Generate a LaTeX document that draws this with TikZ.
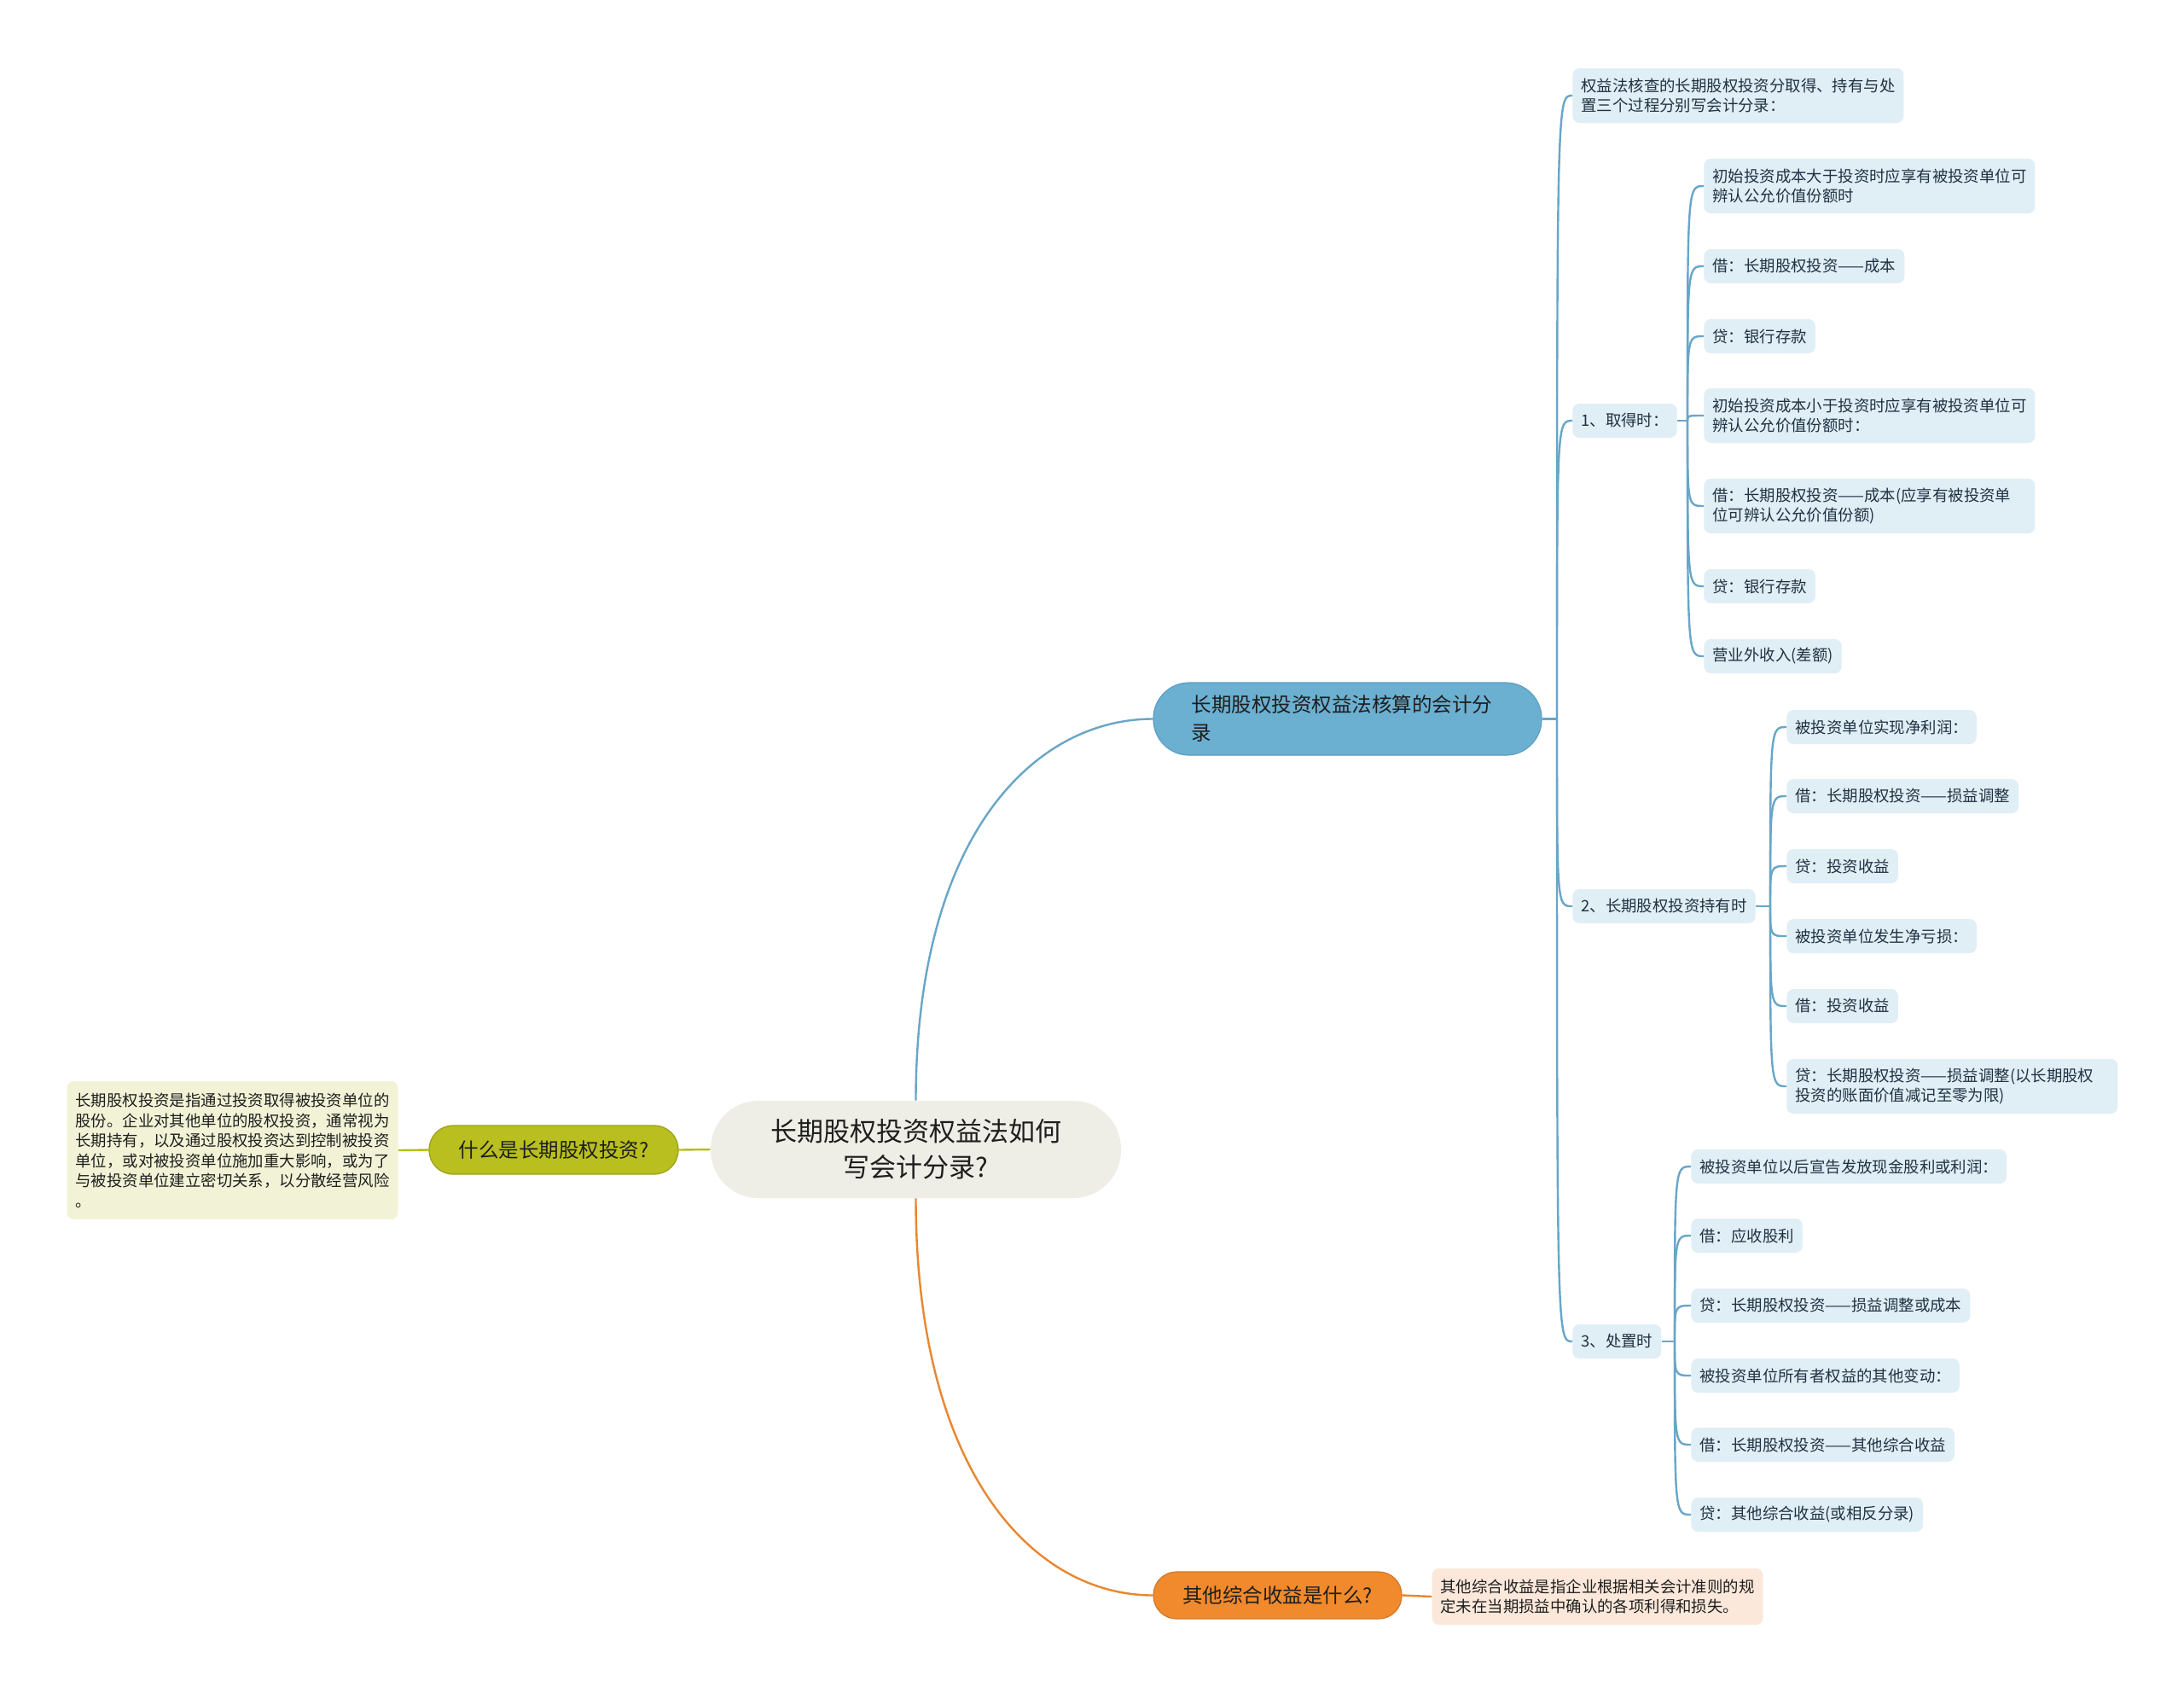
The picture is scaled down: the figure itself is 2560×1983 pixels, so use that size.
\documentclass[tikz,border=0pt]{standalone}
\usepackage{fontspec}
\setmainfont{Noto Sans CJK SC}
\usepackage{tikz}
\usetikzlibrary{positioning, calc}
\usepackage{xcolor}
\definecolor{rootfill}{RGB}{239,238,230}
\definecolor{bluefill}{RGB}{107,175,209}
\definecolor{blueedge}{RGB}{92,158,194}
\definecolor{bluewire}{RGB}{104,166,200}
\definecolor{leaffill}{RGB}{224,238,246}
\definecolor{leafink}{RGB}{32,50,66}
\definecolor{olivefill}{RGB}{184,191,30}
\definecolor{olivewire}{RGB}{181,190,30}
\definecolor{olivenote}{RGB}{242,243,214}
\definecolor{orangefill}{RGB}{241,138,44}
\definecolor{orangewire}{RGB}{232,135,48}
\definecolor{orangenote}{RGB}{252,232,218}
\definecolor{darkink}{RGB}{30,30,30}

\begin{document}
\begin{tikzpicture}[x=0.5pt, y=-0.5pt,
  leaf/.style={fill=leaffill, text=leafink, rounded corners=4pt, inner xsep=5pt, inner ysep=0pt,
               minimum height=20pt, anchor=west, font=\fontsize{9.2}{11.5}\selectfont},
  wideleaf/.style={leaf, text width=184pt, align=left, minimum height=32pt},
  note/.style={rounded corners=4pt, inner xsep=5pt, inner ysep=0pt, text width=184pt, align=left,
               text=darkink, font=\fontsize{9.2}{11.75}\selectfont},
  topic/.style={inner sep=0pt, font=\fontsize{11.75}{16.5}\selectfont, text=darkink},
  bluelink/.style={draw=bluewire, line width=1.2pt},
  olivelink/.style={draw=olivewire, line width=1.2pt},
  orangelink/.style={draw=orangewire, line width=1.2pt}]

  \fill[white] (0,0) rectangle (2560,1983);
  \useasboundingbox (0,0) rectangle (2560,1983);

  \node[fill=rootfill, rounded corners=28pt, minimum width=240.5pt, minimum height=57pt, inner sep=0pt,
        align=center, text=darkink, font=\fontsize{15.5}{21}\selectfont] (root) at (1073.5,1347)
    {长期股权投资权益法如何\\写会计分录?};

  \node[topic, fill=bluefill, draw=blueedge, line width=0.6pt, rounded corners=21pt,
        minimum width=227.5pt, minimum height=42.5pt, text width=183pt, align=left] (q1) at (1579.5,842.5)
    {长期股权投资权益法核算的会计分\\录};
  \node[topic, fill=olivefill, draw=olivewire!85!black, line width=0.6pt, rounded corners=14pt,
        minimum width=146pt, minimum height=28.5pt] (q2) at (649,1347.5) {什么是长期股权投资?};
  \node[topic, fill=orangefill, draw=orangewire!90!black, line width=0.6pt, rounded corners=13.5pt,
        minimum width=145.5pt, minimum height=27.5pt] (q3) at (1497.5,1869.5) {其他综合收益是什么?};

  \node[note, fill=olivenote, minimum height=81pt] (d2) at (272.5,1348)
    {长期股权投资是指通过投资取得被投资单位的\\股份。企业对其他单位的股权投资，通常视为\\长期持有，以及通过股权投资达到控制被投资\\单位，或对被投资单位施加重大影响，或为了\\与被投资单位建立密切关系，以分散经营风险\\。};
  \node[note, fill=orangenote, minimum height=33pt] (d3) at (1872.5,1871)
    {其他综合收益是指企业根据相关会计准则的规\\定未在当期损益中确认的各项利得和损失。};

  \node[wideleaf] (s0) at (1843,112) {权益法核查的长期股权投资分取得、持有与处\\置三个过程分别写会计分录：};
  \node[leaf] (s1) at (1843,493) {1、取得时：};
  \node[leaf] (s2) at (1843,1062) {2、长期股权投资持有时};
  \node[leaf] (s3) at (1843,1572) {3、处置时};

  \node[wideleaf] (a1) at (1997,218) {初始投资成本大于投资时应享有被投资单位可\\辨认公允价值份额时};
  \node[leaf] (a2) at (1997,312) {借：长期股权投资——成本};
  \node[leaf] (a3) at (1997,394) {贷：银行存款};
  \node[wideleaf] (a4) at (1997,487) {初始投资成本小于投资时应享有被投资单位可\\辨认公允价值份额时：};
  \node[wideleaf] (a5) at (1997,593) {借：长期股权投资——成本(应享有被投资单\\位可辨认公允价值份额)};
  \node[leaf] (a6) at (1997,687) {贷：银行存款};
  \node[leaf] (a7) at (1997,769) {营业外收入(差额)};

  \node[leaf] (b1) at (2094,852) {被投资单位实现净利润：};
  \node[leaf] (b2) at (2094,933) {借：长期股权投资——损益调整};
  \node[leaf] (b3) at (2094,1015) {贷：投资收益};
  \node[leaf] (b4) at (2094,1097) {被投资单位发生净亏损：};
  \node[leaf] (b5) at (2094,1179) {借：投资收益};
  \node[wideleaf] (b6) at (2094,1273) {贷：长期股权投资——损益调整(以长期股权\\投资的账面价值减记至零为限)};

  \node[leaf] (c1) at (1982,1367) {被投资单位以后宣告发放现金股利或利润：};
  \node[leaf] (c2) at (1982,1448) {借：应收股利};
  \node[leaf] (c3) at (1982,1530) {贷：长期股权投资——损益调整或成本};
  \node[leaf] (c4) at (1982,1612) {被投资单位所有者权益的其他变动：};
  \node[leaf] (c5) at (1982,1693) {借：长期股权投资——其他综合收益};
  \node[leaf] (c6) at (1982,1775) {贷：其他综合收益(或相反分录)};

  \draw[bluelink] (root.north) .. controls +(0,-309) and +(-140,0) .. (q1.west);
  \draw[orangelink] (root.south) .. controls +(0,321) and +(-140,0) .. (q3.west);
  \draw[olivelink] (root.west) -- (q2.east);
  \draw[olivelink] (q2.west) -- (d2.east);
  \draw[orangelink] (q3.east) -- (d3.west);

  \coordinate (rt) at (1825,842.5);
  \coordinate (j1) at (1978,493);
  \coordinate (j2) at (2075,1062);
  \coordinate (j3) at (1963,1572);
  \draw[bluelink] (q1.east) -- (rt);
  \draw[bluelink] (s1.east) -- (j1);
  \draw[bluelink] (s2.east) -- (j2);
  \draw[bluelink] (s3.east) -- (j3);
  \foreach \n in {s0,s1,s2,s3}
    \draw[bluelink] (rt) .. controls (rt |- \n.west) .. (\n.west);
  \foreach \n in {a1,a2,a3,a4,a5,a6,a7}
    \draw[bluelink] (j1) .. controls (j1 |- \n.west) .. (\n.west);
  \foreach \n in {b1,b2,b3,b4,b5,b6}
    \draw[bluelink] (j2) .. controls (j2 |- \n.west) .. (\n.west);
  \foreach \n in {c1,c2,c3,c4,c5,c6}
    \draw[bluelink] (j3) .. controls (j3 |- \n.west) .. (\n.west);
\end{tikzpicture}
\end{document}
